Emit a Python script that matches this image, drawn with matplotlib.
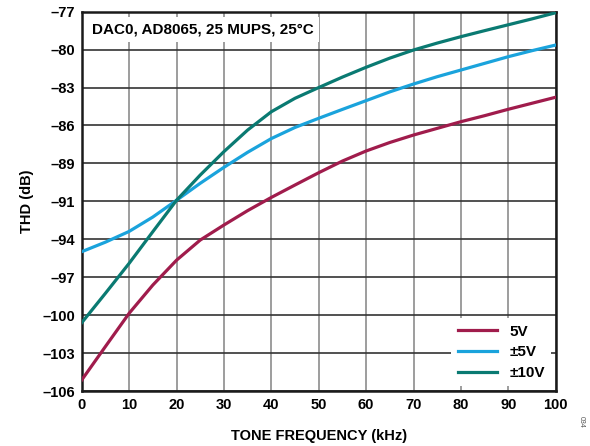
import numpy as np
import matplotlib.pyplot as plt

plt.rcParams['font.family'] = ['Liberation Sans', 'DejaVu Sans']
plt.rcParams['font.weight'] = 'bold'

# data (kHz, dB), every 5 kHz
freq = [0, 5, 10, 15, 20, 25, 30, 35, 40, 45, 50, 55, 60, 65, 70, 75, 80, 85, 90, 95, 100]

thd_5v = [-105.16, -102.6, -100.06, -97.9, -96.0, -94.46, -93.31, -92.21, -91.2, -90.25,
          -89.31, -88.42, -87.65, -87.0, -86.43, -85.92, -85.41, -84.95, -84.46, -84.0, -83.54]

thd_pm5v = [-95.35, -94.62, -93.8, -92.7, -91.42, -90.12, -88.9, -87.75, -86.7, -85.85,
            -85.15, -84.47, -83.8, -83.13, -82.53, -81.97, -81.46, -80.95, -80.44, -79.98, -79.55]

thd_pm10v = [-100.78, -98.53, -96.24, -93.82, -91.42, -89.49, -87.7, -86.05, -84.65, -83.62,
             -82.8, -82.0, -81.25, -80.55, -79.93, -79.4, -78.91, -78.45, -78.0, -77.55, -77.08]

y_ticks = np.linspace(-106, -77, 11)
y_labels = ["–106", "–103", "–100", "–97", "–94", "–91", "–89", "–86", "–83", "–80", "–77"]
x_ticks = [0, 10, 20, 30, 40, 50, 60, 70, 80, 90, 100]

fig = plt.figure(figsize=(5.9, 4.46), dpi=100)
ax = fig.add_axes([0.1385, 0.1233, 0.8034, 0.8505])

ax.plot(freq, thd_5v, color='#A01C4C', lw=2.3, label='5V', zorder=3)
ax.plot(freq, thd_pm5v, color='#1AA3DC', lw=2.3, label='±5V', zorder=3)
ax.plot(freq, thd_pm10v, color='#0A7A72', lw=2.3, label='±10V', zorder=3)

ax.set_xlim(0, 100)
ax.set_ylim(-106, -77)
ax.set_xticks(x_ticks)
ax.set_yticks(y_ticks)
ax.set_yticklabels(y_labels)
ax.tick_params(length=0, labelsize=10.5, pad=5)

ax.xaxis.grid(True, color='#8c8c8c', lw=1.2)
ax.yaxis.grid(True, color='#333333', lw=1.2)
ax.set_axisbelow(True)
for s in ax.spines.values():
    s.set_linewidth(1.8)
    s.set_color('#1a1a1a')

ax.set_xlabel("TONE FREQUENCY (kHz)", fontsize=10.5, fontweight='bold', labelpad=12)
ax.set_ylabel("THD (dB)", fontsize=10.5, fontweight='bold', labelpad=6)

ax.text(0.022, 0.952, "DAC0, AD8065, 25 MUPS, 25°C", transform=ax.transAxes,
        fontsize=11, fontweight='bold', va='center', ha='left',
        bbox=dict(facecolor='white', edgecolor='none', pad=4), zorder=4)

leg = ax.legend(loc='lower right', frameon=True, fancybox=False, framealpha=1,
                edgecolor='none', facecolor='white', fontsize=11, handlelength=2.6,
                labelspacing=0.45, borderaxespad=0.3)
leg.set_zorder(5)

fig.text(0.985, 0.055, "034", rotation=-90, fontsize=5, color='#555555',
         fontweight='normal', ha='center', va='center')

fig.savefig("out.png", dpi=100)
